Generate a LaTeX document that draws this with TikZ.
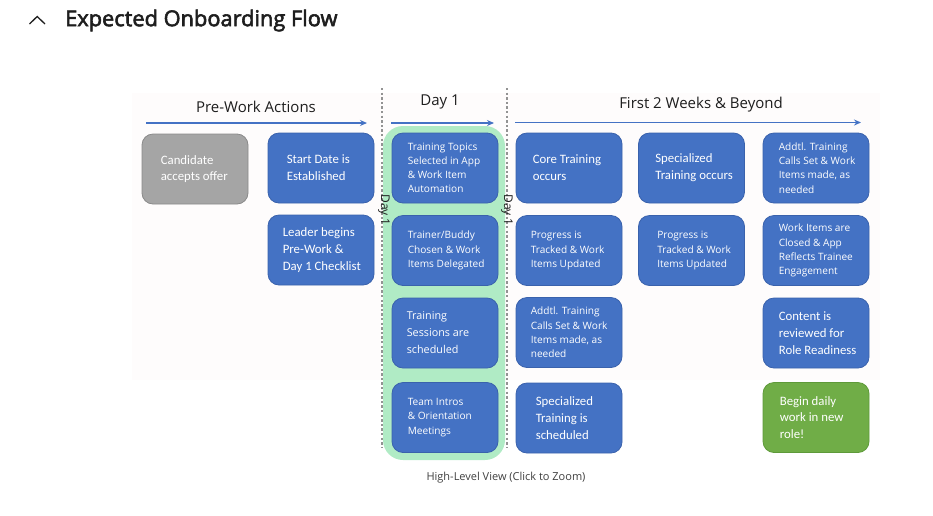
\documentclass[tikz,border=0pt]{standalone}
\usepackage{fontspec}
\setmainfont{Open Sans}
\newfontfamily\calib{Carlito}
\newfontfamily\segoe{Open Sans}
\newfontfamily\segoetitle[FakeBold=2.6]{Open Sans}
\usetikzlibrary{arrows.meta}
\definecolor{cardblue}{HTML}{4472C4}
\definecolor{cardedge}{HTML}{3A62AC}
\definecolor{graybox}{HTML}{A5A5A5}
\definecolor{grayedge}{HTML}{8A8A8A}
\definecolor{greenbox}{HTML}{70AD47}
\definecolor{greenedge}{HTML}{5E9A3A}
\definecolor{panelgreen}{HTML}{B0EBC5}
\definecolor{arrowblue}{HTML}{4472C4}
\definecolor{faintbg}{RGB}{254,252,252}
\definecolor{inkdark}{HTML}{1E1E1E}
\tikzset{
  card/.style={draw=cardedge, line width=0.8pt, fill=cardblue, rounded corners=11pt,
    minimum width=106pt, minimum height=70pt, inner sep=0pt},
  graycard/.style={card, draw=grayedge, fill=graybox},
  greencard/.style={card, draw=greenedge, fill=greenbox},
  fa/.style={text=white, align=left, inner sep=0pt, anchor=west,
    font=\calib\fontsize{12.8}{16.8}\selectfont},
  fb/.style={text=white, align=left, inner sep=0pt, anchor=west,
    font=\segoe\fontsize{10.1}{14.2}\selectfont},
  fc/.style={text=white, align=left, inner sep=0pt, anchor=west,
    font=\segoe\fontsize{10.8}{17}\selectfont},
  phasearrow/.style={draw=arrowblue, line width=1.4pt, -{Stealth[length=7pt,width=6pt]}},
  divider/.style={draw=gray!85, line width=1.1pt, dash pattern=on 2.4pt off 2.2pt},
  header/.style={text=inkdark, inner sep=0pt, font=\segoe\fontsize{15}{18}\selectfont},
  daylabel/.style={text=inkdark, inner sep=0pt, rotate=-90, font=\segoe\fontsize{12}{14}\selectfont},
}
\begin{document}
\begin{tikzpicture}[x=1pt, y=-1pt]
\useasboundingbox (0,0) rectangle (933,515);
% title
\coordinate (chA) at (29.5,24);
\coordinate (chB) at (37.2,16.5);
\coordinate (chC) at (45,24);
\draw[inkdark, line width=1.3pt] (chA) -- (chB) -- (chC);
\node[anchor=west, inner sep=0pt, text=inkdark, font=\segoetitle\fontsize{21.8}{25}\selectfont] (title) at (65,20.5) {Expected Onboarding Flow};
% faint background
\fill[faintbg] (132,93) rectangle (880,380);
% green day-1 panel
\fill[panelgreen, rounded corners=20pt] (383,126) rectangle (505,460);
% dividers
\coordinate (dl1) at (382,88);
\coordinate (dl2) at (382,448);
\coordinate (dr1) at (507,88);
\coordinate (dr2) at (507,448);
\draw[divider] (dl1) -- (dl2);
\draw[divider] (dr1) -- (dr2);
\node[daylabel] (dayL) at (384,210) {Day 1};
\node[daylabel] (dayR) at (507,210) {Day 1};
% headers and arrows
\node[header] (hPre) at (256,107) {Pre-Work Actions};
\node[header] (hDay) at (440,102) {Day 1};
\node[header] (hFirst) at (701,105) {First 2 Weeks \& Beyond};
\coordinate (aP1) at (146,123);
\coordinate (aP2) at (367,123);
\coordinate (aD1) at (391,123);
\coordinate (aD2) at (494,123);
\coordinate (aF1) at (515,122.5);
\coordinate (aF2) at (861,122.5);
\draw[phasearrow] (aP1) -- (aP2);
\draw[phasearrow] (aD1) -- (aD2);
\draw[phasearrow] (aF1) -- (aF2);
% column 1
\node[graycard] (b11) at (195,169) {};
\node[fa] (t11) at ([xshift=19pt]b11.west) {Candidate\\accepts offer};
% column 2
\node[card] (b21) at (321,168) {};
\node[fa] (t21) at ([xshift=19pt]b21.west) {Start Date is\\Established};
\node[card] (b22) at (321,250) {};
\node[fa] (t22) at ([xshift=15pt]b22.west) {Leader begins\\Pre-Work \&\\Day 1 Checklist};
% column 3 (Day 1)
\node[card] (b31) at (445,168) {};
\node[fb] (t31) at ([xshift=16pt]b31.west) {Training Topics\\Selected in App\\\& Work Item\\Automation};
\node[card] (b32) at (445,250.5) {};
\node[fb] (t32) at ([xshift=16pt]b32.west) {Trainer/Buddy\\Chosen \& Work\\Items Delegated};
\node[card] (b33) at (445,333) {};
\node[fc] (t33) at ([xshift=15pt]b33.west) {Training\\Sessions are\\scheduled};
\node[card] (b34) at (445,417.5) {};
\node[fb] (t34) at ([xshift=16pt]b34.west) {Team Intros\\\& Orientation\\Meetings};
% column 4
\node[card] (b41) at (569,168) {};
\node[fa] (t41) at ([xshift=17pt]b41.west) {Core Training\\occurs};
\node[card] (b42) at (569,250.5) {};
\node[fb] (t42) at ([xshift=15pt]b42.west) {Progress is\\Tracked \& Work\\Items Updated};
\node[card] (b43) at (569,332.5) {};
\node[fb] (t43) at ([xshift=15pt]b43.west) {Addtl. Training\\Calls Set \& Work\\Items made, as\\needed};
\node[card] (b44) at (569,418) {};
\node[fa] (t44) at ([xshift=20pt]b44.west) {Specialized\\Training is\\scheduled};
% column 5
\node[card] (b51) at (691.5,168) {};
\node[fa] (t51) at ([xshift=17pt]b51.west) {Specialized\\Training occurs};
\node[card] (b52) at (691.5,250.5) {};
\node[fb] (t52) at ([xshift=19pt]b52.west) {Progress is\\Tracked \& Work\\Items Updated};
% column 6
\node[card] (b61) at (816,168) {};
\node[fb] (t61) at ([xshift=16pt]b61.west) {Addtl. Training\\Calls Set \& Work\\Items made, as\\needed};
\node[card] (b62) at (816,250.5) {};
\node[fb] (t62) at ([xshift=16pt]b62.west) {Work Items are\\Closed \& App\\Reflects Trainee\\Engagement};
\node[card] (b63) at (816,333) {};
\node[fa] (t63) at ([xshift=16pt]b63.west) {Content is\\reviewed for\\Role Readiness};
\node[greencard] (b64) at (816,417.5) {};
\node[fa] (t64) at ([xshift=17pt]b64.west) {Begin daily\\work in new\\role!};
% caption
\node[inner sep=0pt, text=inkdark!85, font=\segoe\fontsize{11}{13}\selectfont] (cap) at (506,478) {High-Level View (Click to Zoom)};
\end{tikzpicture}
\end{document}
